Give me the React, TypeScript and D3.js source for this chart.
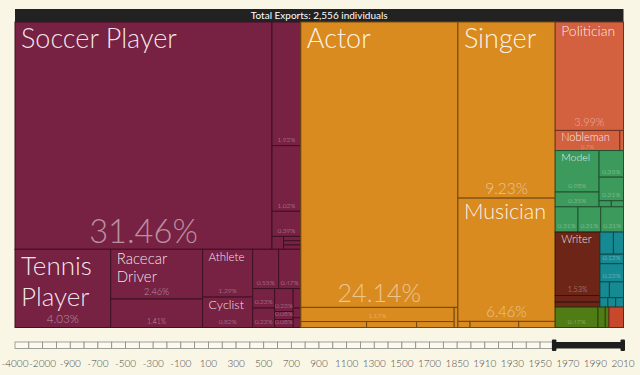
import React, { useMemo } from "react";
import * as d3 from "d3";

// ---------------- data ----------------
const TITLE = "Total Exports: 2,556 individuals";

// [layout path, occupation ("" = unnamed), share of individuals in %]
type Leaf = [string, string, number];

const sportsLeaves: Leaf[] = [
  ["sports/team", "Soccer Player", 31.46],
  ["sports/team/col", "", 1.92],
  ["sports/team/col", "", 1.02],
  ["sports/team/col", "", 0.39],
  ["sports/team/col/small", "", 0.08],
  ["sports/team/col/small/stack", "", 0.04],
  ["sports/team/col/small/stack", "", 0.04],
  ["sports/team/col/small/stack", "", 0.04],
  ["sports/ind", "Tennis Player", 4.03],
  ["sports/ind/racing", "Racecar Driver", 2.46],
  ["sports/ind/racing", "", 1.41],
  ["sports/ind/ac", "Athlete", 1.29],
  ["sports/ind/ac", "Cyclist", 0.82],
  ["sports/ind/misc/top", "", 0.55],
  ["sports/ind/misc/top", "", 0.47],
  ["sports/ind/misc/bot/a", "", 0.23],
  ["sports/ind/misc/bot/a", "", 0.23],
  ["sports/ind/misc/bot/b", "", 0.23],
  ["sports/ind/misc/bot/b", "", 0.08],
  ["sports/ind/misc/bot/b", "", 0.08],
  ["sports/ind/misc/bot/c", "", 0.08],
  ["sports/ind/misc/bot/c", "", 0.04],
  ["sports/ind/misc/bot/c", "", 0.04],
];

const artsLeaves: Leaf[] = [
  ["arts/actor", "Actor", 24.14],
  ["arts/actor/low/l", "", 1.17],
  ["arts/actor/low/l/row", "", 0.21],
  ["arts/actor/low/l/row", "", 0.16],
  ["arts/actor/low/l/row", "", 0.12],
  ["arts/actor/low", "", 0.04],
  ["arts/singer", "Singer", 9.23],
  ["arts/singer", "Musician", 6.46],
  ["arts/singer/row", "", 0.04],
  ["arts/singer/row", "", 0.16],
  ["arts/singer/row", "", 0.12],
];

const institutionsLeaves: Leaf[] = [
  ["right/pol", "Politician", 3.99],
  ["right/pol/nob", "Nobleman", 0.7],
  ["right/pol/nob", "", 0.04],
];

const publicFigureLeaves: Leaf[] = [
  ["right/pub/top/l", "Model", 0.98],
  ["right/pub/top/l", "", 0.35],
  ["right/pub/top/r", "", 0.35],
  ["right/pub/top/r", "", 0.31],
  ["right/pub/top/r/s", "", 0.04],
  ["right/pub/top/r/s", "", 0.04],
  ["right/pub/bot", "", 0.31],
  ["right/pub/bot", "", 0.31],
  ["right/pub/bot", "", 0.31],
];

const humanitiesLeaves: Leaf[] = [
  ["right/mid/hum", "Writer", 1.53],
  ["right/mid/hum", "", 0.16],
  ["right/mid/hum", "", 0.12],
];

const scienceLeaves: Leaf[] = [
  ["right/mid/sci/a", "", 0.16],
  ["right/mid/sci/a", "", 0.12],
  ["right/mid/sci", "", 0.12],
  ["right/mid/sci", "", 0.23],
  ["right/mid/sci/b", "", 0.08],
  ["right/mid/sci/b", "", 0.12],
  ["right/mid/sci/c", "", 0.04],
  ["right/mid/sci/c", "", 0.04],
  ["right/mid/sci/c", "", 0.04],
];

const businessLeaves: Leaf[] = [
  ["right/low/bus", "", 0.47],
  ["right/low/bus", "", 0.08],
  ["right/low/bus", "", 0.04],
];

const explorationLeaves: Leaf[] = [["right/low", "", 0.16]];

const DOMAIN_KEYS = ["sports", "arts", "institutions", "public", "humanities", "science", "business", "exploration"];
const DOMAIN_COLORS = ["#772143", "#d98b1f", "#d3603f", "#3c9a5c", "#6d2518", "#168a93", "#4f7c14", "#c8482b"];
const DOMAIN_LEAVES = [sportsLeaves, artsLeaves, institutionsLeaves, publicFigureLeaves, humanitiesLeaves, scienceLeaves, businessLeaves, explorationLeaves];

const YEARS = ["-4000", "-2000", "-900", "-700", "-500", "-300", "-100", "100", "300", "500", "700", "900", "1100", "1300", "1500", "1700", "1850", "1910", "1930", "1950", "1970", "1990", "2010"];
const SELECTION = [1960, 2010];

// ---------------- layout (split direction of each block) ----------------
const SPLIT: Record<string, "h" | "v"> = {
  "": "h",
  sports: "v",
  "sports/team": "h",
  "sports/team/col": "v",
  "sports/team/col/small": "h",
  "sports/team/col/small/stack": "v",
  "sports/ind": "h",
  "sports/ind/racing": "v",
  "sports/ind/ac": "v",
  "sports/ind/misc": "v",
  "sports/ind/misc/top": "h",
  "sports/ind/misc/bot": "h",
  "sports/ind/misc/bot/a": "v",
  "sports/ind/misc/bot/b": "v",
  "sports/ind/misc/bot/c": "v",
  arts: "h",
  "arts/actor": "v",
  "arts/actor/low": "h",
  "arts/actor/low/l": "v",
  "arts/actor/low/l/row": "h",
  "arts/singer": "v",
  "arts/singer/row": "h",
  right: "v",
  "right/pol": "v",
  "right/pol/nob": "h",
  "right/pub": "v",
  "right/pub/top": "h",
  "right/pub/top/l": "v",
  "right/pub/top/r": "v",
  "right/pub/top/r/s": "h",
  "right/pub/bot": "h",
  "right/mid": "h",
  "right/mid/hum": "v",
  "right/mid/sci": "v",
  "right/mid/sci/a": "h",
  "right/mid/sci/b": "h",
  "right/mid/sci/c": "h",
  "right/low": "h",
  "right/low/bus": "h",
};

const FONT = "Lato, 'Open Sans', 'DejaVu Sans', sans-serif";
const BG = "#f9f6e5";
const X0 = 15;
const X1 = 623.5;
const Y0 = 22;
const Y1 = 327.5;
const LINE = 1.2;

let ctx: CanvasRenderingContext2D | null = null;
function textW(s: string, size: number) {
  if (!ctx) ctx = document.createElement("canvas").getContext("2d");
  if (!ctx) return s.length * size * 0.5;
  ctx.font = `300 ${size}px ${FONT}`;
  return ctx.measureText(s).width;
}

function wrap(words: string[], s: number, availW: number): string[] | null {
  const lines: string[] = [];
  let cur = "";
  for (const wd of words) {
    if (textW(wd, s) > availW) return null;
    const t = cur ? cur + " " + wd : wd;
    if (textW(t, s) <= availW) cur = t;
    else {
      lines.push(cur);
      cur = wd;
    }
  }
  lines.push(cur);
  return lines;
}

function fitName(name: string, w: number, availH: number) {
  const availW = w - 14;
  const words = name.split(" ");
  for (let s = 27; s >= 6; s -= 0.5) {
    const lines = wrap(words, s, availW);
    if (!lines) continue;
    const blockH = lines.length === 1 ? s * 1.1 : s * LINE * lines.length;
    if (blockH <= availH) return { size: s, lines };
  }
  return null;
}

function fmtPct(v: number) {
  return v.toFixed(2).replace(/0+$/, "").replace(/\.$/, "") + "%";
}

function buildTree() {
  const root: any = { id: "", children: [] };
  const index = new Map<string, any>([["", root]]);
  const getNode = (path: string): any => {
    if (index.has(path)) return index.get(path);
    const cut = path.lastIndexOf("/");
    const parent = getNode(cut >= 0 ? path.slice(0, cut) : "");
    const n = { id: path, children: [] as any[] };
    parent.children.push(n);
    index.set(path, n);
    return n;
  };
  DOMAIN_LEAVES.forEach((leaves, di) =>
    leaves.forEach(([path, name, value], i) => {
      getNode(path).children.push({ id: `${path}#${i}`, name, value, domain: DOMAIN_KEYS[di] });
    })
  );
  return root;
}

export default function App() {
  const leaves = useMemo(() => {
    const root = d3.hierarchy<any>(buildTree()).sum((d) => d.value ?? 0);
    const tile = (node: any, x0: number, y0: number, x1: number, y1: number) => {
      const dir = SPLIT[node.data.id] ?? (node.depth % 2 ? "v" : "h");
      (dir === "h" ? d3.treemapDice : d3.treemapSlice)(node, x0, y0, x1, y1);
    };
    const tm = d3.treemap<any>().tile(tile as any).size([X1 - X0, Y1 - Y0]).round(false);
    return tm(root).leaves();
  }, []);

  const color = d3.scaleOrdinal<string, string>().domain(DOMAIN_KEYS).range(DOMAIN_COLORS);

  // timeline scales
  const ix = d3.scalePoint<string>().domain(YEARS).range([15, 623]);
  const tx = d3.scaleLinear().domain(YEARS.map(Number)).range(YEARS.map((y) => ix(y) as number));
  const bounds: number[] = [];
  YEARS.forEach((y, i) => {
    bounds.push(ix(y) as number);
    if (i < YEARS.length - 1) bounds.push(((ix(y) as number) + (ix(YEARS[i + 1]) as number)) / 2);
  });
  const selX0 = tx(SELECTION[0]);
  const selX1 = tx(SELECTION[1]);
  const cells: [number, number][] = [];
  for (let k = 0; k < bounds.length - 1; k++) {
    if (bounds[k + 1] <= selX0 + 0.01) cells.push([bounds[k], bounds[k + 1]]);
  }

  return (
    <svg
      width={640}
      height={375}
      style={{ position: "absolute", left: 0, top: 0, background: BG, fontFamily: FONT }}
    >
      <rect x={0} y={0} width={640} height={375} fill={BG} />
      {/* title bar */}
      <rect x={X0} y={9} width={X1 - X0} height={13} fill="#222" />
      <text x={(X0 + X1) / 2} y={19} textAnchor="middle" fontSize={10} fill="#fff">
        {TITLE}
      </text>

      <g transform={`translate(${X0},${Y0})`}>
        {leaves.map((d: any) => {
          const c = color(d.data.domain);
          const w = d.x1 - d.x0;
          const h = d.y1 - d.y0;
          const stroke = (d3.color(c) as any).darker(1.8).formatHex();
          return (
            <rect key={d.data.id} x={d.x0} y={d.y0} width={w} height={h} fill={c} stroke={stroke} strokeWidth={1} />
          );
        })}
        {leaves.map((d: any) => {
          const w = d.x1 - d.x0;
          const h = d.y1 - d.y0;
          const named = !!d.data.name;
          const small = named && h < 30;
          let p = Math.min(0.135 * Math.sqrt(w * h), 0.16 * w);
          p = small ? 6 : Math.max(6.5, Math.min(34, p));
          const label = fmtPct(d.data.value);
          const showPct = named ? true : h >= 7 && textW(label, p) <= w + 2;
          const pctOffset = small ? 1.5 : 3 + p * 0.1;
          const pctTop = pctOffset + p * 0.99;
          const fit = named ? fitName(d.data.name, w, h - pctTop) : null;
          return (
            <g key={"t" + d.data.id}>
              {fit && (
                <text
                  x={d.x0 + 6}
                  y={d.y0 + fit.size * 0.98}
                  fontSize={fit.size}
                  fontWeight={300}
                  fill="#fff"
                  fillOpacity={0.9}
                >
                  {fit.lines.map((ln: string, i: number) => (
                    <tspan key={i} x={d.x0 + 6} dy={i === 0 ? 0 : fit.size * LINE}>
                      {ln}
                    </tspan>
                  ))}
                </text>
              )}
              {showPct && (
                <text
                  x={(d.x0 + d.x1) / 2}
                  y={d.y1 - pctOffset}
                  textAnchor="middle"
                  fontSize={p}
                  fontWeight={300}
                  fill="#fff"
                  fillOpacity={0.5}
                >
                  {label}
                </text>
              )}
            </g>
          );
        })}
      </g>

      {/* timeline */}
      <g>
        {cells.map(([a, b], i) => (
          <rect key={i} x={a} y={342} width={b - a} height={6.5} fill="#fcfaf0" stroke="#8a8a85" strokeWidth={0.8} />
        ))}
        <rect x={selX0} y={342} width={selX1 - selX0} height={6.5} fill="#1e1e1e" />
        <rect x={selX0 - 2} y={339.5} width={4.5} height={11.5} rx={1} fill="#1e1e1e" />
        <rect x={selX1 - 2.5} y={339.5} width={4.5} height={11.5} rx={1} fill="#1e1e1e" />
        {YEARS.map((y) => (
          <text key={y} x={ix(y)} y={366.5} textAnchor="middle" fontSize={10} fontWeight={300} fill="#4a4a4a">
            {y}
          </text>
        ))}
      </g>
    </svg>
  );
}
